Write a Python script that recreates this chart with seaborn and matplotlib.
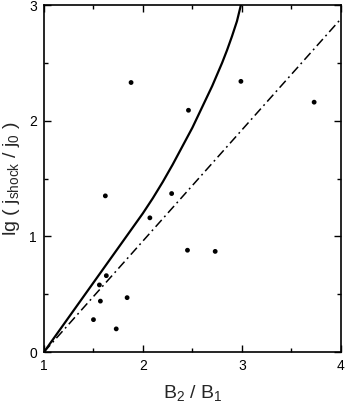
import matplotlib
matplotlib.use("Agg")
import matplotlib.pyplot as plt
from matplotlib.ticker import MultipleLocator
import seaborn as sns
import pandas as pd

# measured points
b_ratio = [1.50, 1.56, 1.57, 1.63, 1.62, 1.73, 1.84, 1.88, 2.07, 2.29,
           2.45, 2.46, 2.73, 2.99, 3.73]
lg_j = [0.28, 0.58, 0.44, 0.66, 1.35, 0.20, 0.47, 2.33, 1.16, 1.37,
        0.88, 2.09, 0.87, 2.34, 2.16]

# theory curve (solid)
curve_x = [1.0, 1.2, 1.4, 1.6, 1.8, 2.0, 2.1, 2.2, 2.3, 2.4, 2.5, 2.6,
           2.7, 2.8, 2.85, 2.9, 2.95, 2.99]
curve_y = [0.0, 0.24, 0.48, 0.72, 0.96, 1.20, 1.33, 1.47, 1.62, 1.78,
           1.94, 2.12, 2.30, 2.50, 2.61, 2.73, 2.86, 3.0]

# linear estimate (dash-dot)
line_x = [1.0, 4.0]
line_y = [0.0, 2.88]

sns.set_style("ticks")
plt.rcParams["font.family"] = ["Liberation Sans", "DejaVu Sans"]
plt.rcParams["mathtext.fontset"] = "custom"
plt.rcParams["mathtext.rm"] = "Liberation Sans"
plt.rcParams["mathtext.it"] = "Liberation Sans:italic"

fig = plt.figure(figsize=(3.45, 4.07), dpi=100)
ax = fig.add_axes([0.1275, 0.1351, 0.8605, 0.8526])

pts = pd.DataFrame({"x": b_ratio, "y": lg_j})
sns.scatterplot(data=pts, x="x", y="y", ax=ax, color="black", s=12,
                edgecolor="none", zorder=3)
sns.lineplot(x=curve_x, y=curve_y, ax=ax, color="black", lw=1.6,
             sort=False, estimator=None)
sns.lineplot(x=line_x, y=line_y, ax=ax, color="black", lw=1.1,
             sort=False, estimator=None, dashes=False)
ax.lines[-1].set_dashes([6, 2.5, 1.2, 2.5])

ax.set_xlim(1, 4)
ax.set_ylim(0, 3)
ax.xaxis.set_major_locator(MultipleLocator(1))
ax.xaxis.set_minor_locator(MultipleLocator(0.5))
ax.yaxis.set_major_locator(MultipleLocator(1))
ax.yaxis.set_minor_locator(MultipleLocator(0.5))
ax.tick_params(which="both", direction="in", top=True, right=True,
               width=1.0, colors="black", labelsize=10)
ax.tick_params(which="major", length=5, pad=5)
ax.tick_params(which="minor", length=3)
for sp in ax.spines.values():
    sp.set_linewidth(1.2)
    sp.set_color("black")

ax.set_xlabel(r"B$_2$ / B$_1$", fontsize=14, labelpad=7)
ax.set_ylabel(r"lg ( j$_{\mathrm{shock}}$ / j$_0$ )", fontsize=14, labelpad=5)

fig.savefig("out.png", dpi=100)
